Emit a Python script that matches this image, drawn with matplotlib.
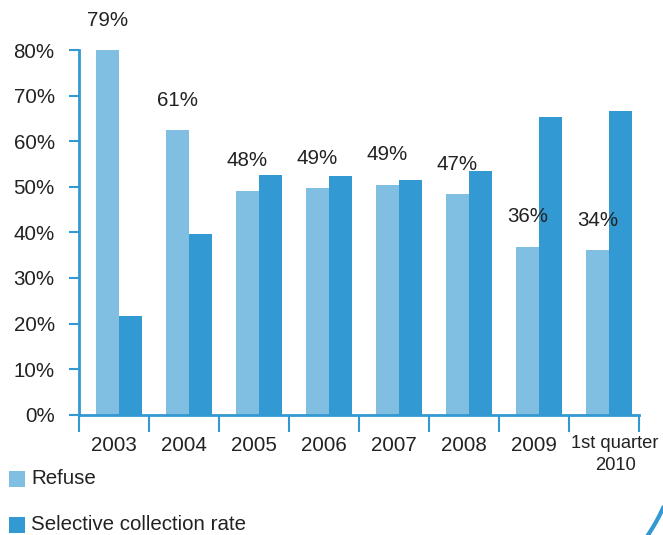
import numpy as np
import matplotlib
matplotlib.use('Agg')
import matplotlib.pyplot as plt
from matplotlib.patches import Rectangle
from matplotlib import transforms

# data
categories = ['2003', '2004', '2005', '2006', '2007', '2008', '2009', '1st quarter\n2010']
refuse = [80.0, 62.4, 49.1, 49.7, 50.4, 48.4, 36.8, 36.1]
selective = [21.7, 39.6, 52.6, 52.4, 51.5, 53.4, 65.3, 66.6]
refuse_labels = ['79%', '61%', '48%', '49%', '49%', '47%', '36%', '34%']
legend_labels = ['Refuse', 'Selective collection rate']

LIGHT = '#80bfe2'
DARK = '#3399d2'
TEXT = '#222222'
FS = 14.8

plt.rcParams['font.family'] = ['Liberation Sans', 'DejaVu Sans']

W, H = 663, 535
fig = plt.figure(figsize=(W / 100, H / 100), dpi=100)
ax_bottom = 414.7
ax = fig.add_axes([79 / W, 1 - ax_bottom / H, (639 - 79) / W, (ax_bottom - 50) / H])

x = np.arange(len(categories))
bw = 0.325
shift = 0.07
ax.bar(x + shift - bw / 2, refuse, bw, color=LIGHT, zorder=2)
ax.bar(x + shift + bw / 2, selective, bw, color=DARK, zorder=2)

# value labels above the refuse bars
for xi, v, lab in zip(x, refuse, refuse_labels):
    ax.annotate(lab, (xi + shift - bw / 2, v), xytext=(0, 30 * 72 / 100),
                textcoords='offset points', ha='center', va='center',
                fontsize=FS, color=TEXT, annotation_clip=False)

ax.set_xlim(-0.5, len(categories) - 0.5)
ax.set_ylim(0, 80)

ax.set_yticks(np.arange(0, 81, 10))
ax.set_yticklabels([f'{t}%' for t in range(0, 81, 10)])
ax.set_xticks(np.arange(-0.5, len(categories), 1))
ax.set_xticklabels([])
ax.set_xticks(x, minor=True)
# last category is written by hand below (smaller, shifted right)
ax.set_xticklabels(categories[:-1] + [''], minor=True)

ax.tick_params(axis='y', which='major', direction='out', length=7, width=1.5,
               color=DARK, labelsize=FS, labelcolor=TEXT, pad=10.5)
ax.tick_params(axis='x', which='major', direction='out', length=12, width=1.5,
               color=DARK)
ax.tick_params(axis='x', which='minor', length=0, labelsize=FS,
               labelcolor=TEXT, pad=15)

# x in data, y in pixels from the top of the figure
trans = transforms.blended_transform_factory(ax.transData, fig.transFigure)
for i, line in enumerate(categories[-1].split('\n')):
    ax.text(x[-1] + 0.16, 1 - (443.7 + 22 * i) / H, line, transform=trans,
            ha='center', va='center', fontsize=13.2, color=TEXT)

for side in ['top', 'right']:
    ax.spines[side].set_visible(False)
for side in ['left', 'bottom']:
    ax.spines[side].set_color(DARK)
    ax.spines[side].set_linewidth(2)

# legend drawn by hand, stacked below the axis
for i, (lab, col) in enumerate(zip(legend_labels, [LIGHT, DARK])):
    yc = 478.5 + i * 46
    fig.add_artist(Rectangle((9 / W, 1 - (yc + 8) / H), 15.5 / W, 16 / H,
                             transform=fig.transFigure, color=col, lw=0))
    fig.text(31 / W, 1 - yc / H, lab, fontsize=FS, color=TEXT,
             ha='left', va='center')

# small decorative arc in the bottom right corner
t = np.linspace(0, 1, 20)
fig.add_artist(plt.Line2D((663 - 12 * t - 3 * t ** 2) / W,
                          1 - (508 + 27 * t) / H, color=DARK, lw=3,
                          transform=fig.transFigure))

fig.savefig('out.png', dpi=100)
